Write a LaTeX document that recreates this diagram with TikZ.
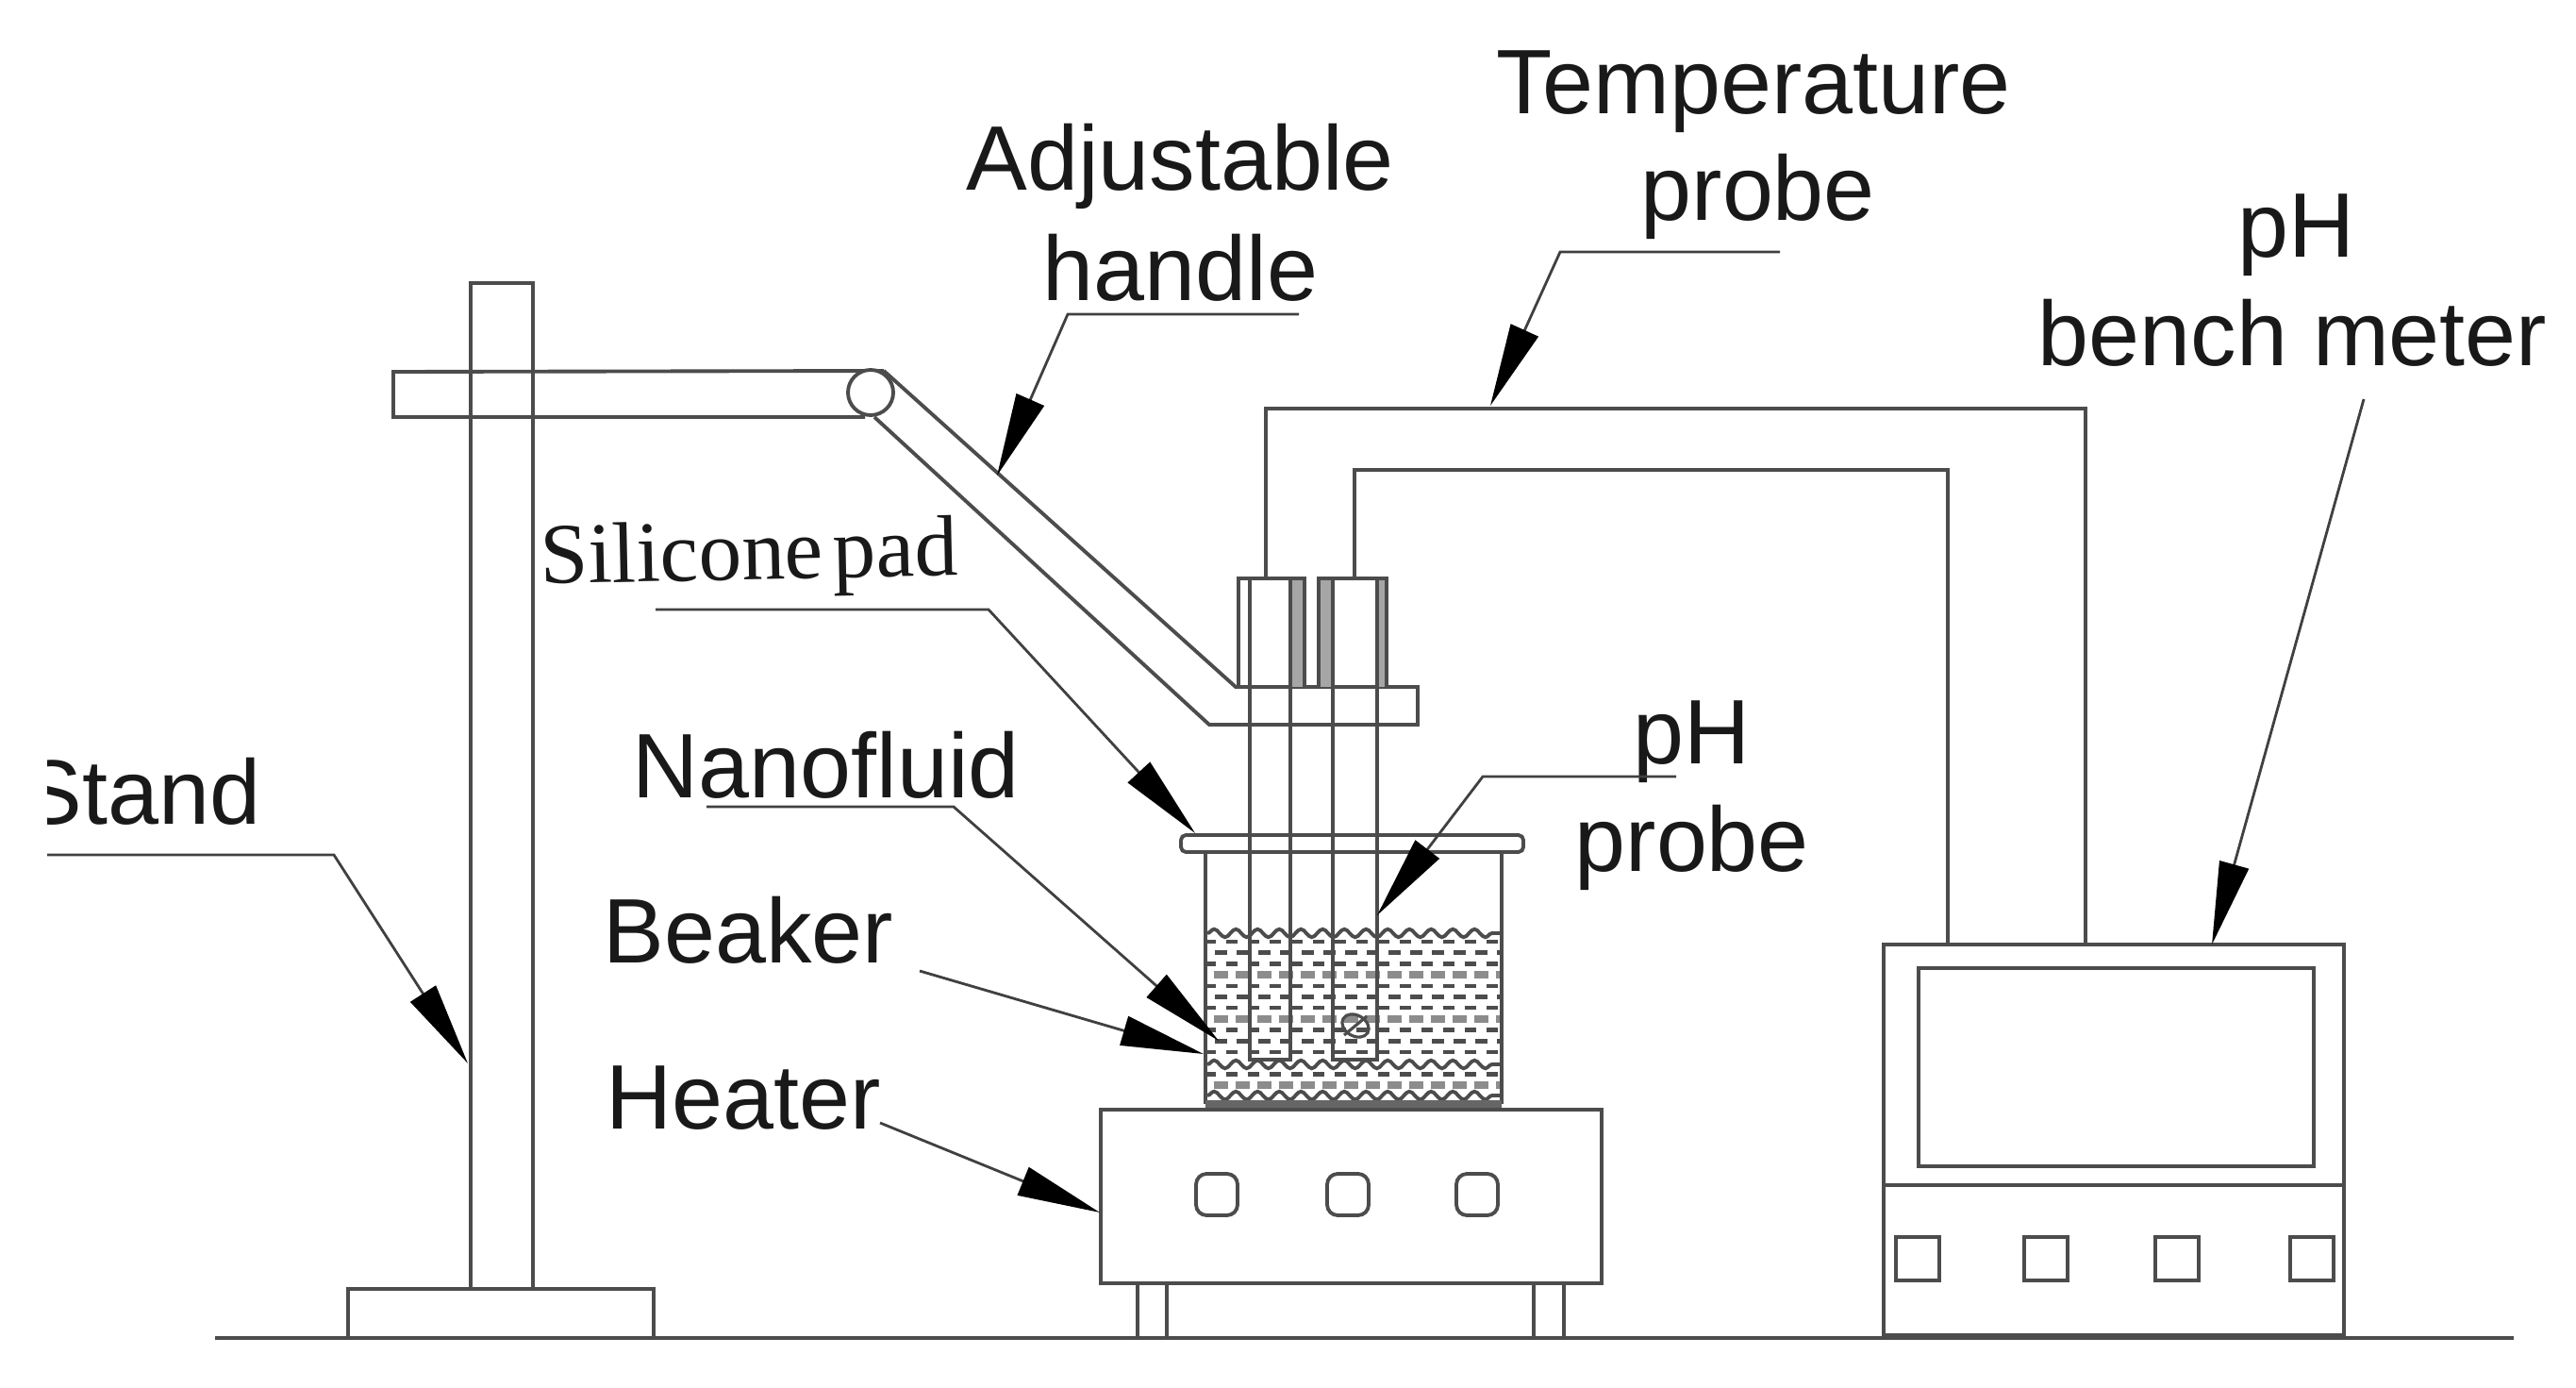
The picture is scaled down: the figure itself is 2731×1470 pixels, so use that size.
\documentclass[tikz,border=0pt]{standalone}
\usepackage{fontspec}
\setmainfont{Liberation Sans}
\newfontfamily\padfont{Liberation Serif}
\usetikzlibrary{arrows.meta,decorations.pathmorphing}

\tikzset{
	part/.style={draw=black!70, line width=1.1pt},
	leader/.style={draw=black!75, line width=0.8pt, -{Triangle[length=25pt,width=9pt,color=black]}},
	lbl/.style={inner sep=0pt, anchor=base west, text=black!90, font=\fontsize{27.6}{32}\selectfont},
	fluid/.style={draw=black!70, line width=1.3pt},
	wave/.style={draw=black!70, line width=1.1pt, decorate, decoration={snake, segment length=6.54pt, amplitude=1.2pt}}
}

\begin{document}
\begin{tikzpicture}[x=0.01cm, y=-0.01cm]
	\useasboundingbox (0,0) rectangle (2731,1470);

	\node[lbl] (stand) at (22,873) {Stand};
	\fill[white] (0,780) rectangle (50,900);
	\node[lbl] (adjustable) at (1024,202) {Adjustable};
	\node[lbl] (handle) at (1105,319) {handle};
	\node[lbl, font=\padfont\fontsize{26}{30}\selectfont, rotate=1.2] (pad) at (573,619) {Silicone\hspace{3pt}pad};
	\node[lbl] (nanofluid) at (670,845) {Nanofluid};
	\node[lbl] (beaker) at (639,1020) {Beaker};
	\node[lbl] (heater) at (642,1196) {Heater};
	\node[lbl] (temperature) at (1586,121) {Temperature};
	\node[lbl] (probeT) at (1739,234) {probe};
	\node[lbl] (phP) at (1731,809) {pH};
	\node[lbl] (probeP) at (1669,923) {probe};
	\node[lbl] (phM) at (2372,273) {pH};
	\node[lbl] (bench) at (2160,387) {bench meter};

	\coordinate (ground1) at (228,1418);
	\coordinate (ground2) at (2665,1418);
	\draw[part] (ground1) -- (ground2);

	\draw[part] (369,1418) -- (369,1366) -- (693,1366) -- (693,1418);
	\draw[part] (499,1366) -- (499,300) -- (565,300) -- (565,1366);
	\draw[part] (917,442) -- (417,442) -- (417,394) -- (937,393);
	\draw[part] (937,393) -- (1310,728) -- (1503,728) -- (1503,768) -- (1282,768) -- (927,442);
	\draw[part, fill=white] (923,416) circle (24);

	\fill[black!35] (1368,613) rectangle (1383,728);
	\fill[black!35] (1398,613) rectangle (1413,728);
	\fill[black!35] (1460,613) rectangle (1470,728);
	\draw[part] (1313,728) -- (1313,613) -- (1383,613) -- (1383,728);
	\draw[part] (1398,728) -- (1398,613) -- (1470,613) -- (1470,728);

	\foreach \r [evaluate=\r as \yy using 998+11.7*\r, evaluate=\r as \ph using {0.98+3.27*mod(\r,2)}] in {0,1,2,4,5,6,8,9,10,12}
		\draw[fluid, dash pattern=on 3.6pt off 2.94pt, dash phase=\ph pt] (1280,\yy) -- (1590,\yy);
	\foreach \r [evaluate=\r as \yy using 998+11.7*\r] in {3,7,13}
		\draw[draw=black!45, line width=2.2pt, dash pattern=on 4.2pt off 2.34pt, dash phase=4.6pt] (1280,\yy) -- (1590,\yy);
	\draw[wave] (1280,989) -- (1590,989);
	\draw[wave] (1280,1128) -- (1590,1128);
	\draw[wave] (1280,1161) -- (1590,1161);

	\draw[part, rounded corners=1.5pt] (1252,885) rectangle (1615,903);
	\draw[part] (1278,903) -- (1278,1168) -- (1592,1168) -- (1592,903);
	\fill[black!60] (1278,1166) rectangle (1592,1176);

	\draw[part] (1325,613) -- (1325,1123) -- (1368,1123) -- (1368,613);
	\draw[part] (1413,613) -- (1413,1123) -- (1460,1123) -- (1460,613);
	\draw[draw=black!70, line width=0.9pt, rotate around={-30:(1437,1087)}] (1437,1087) ellipse (15 and 11);
	\draw[draw=black!70, line width=0.9pt] (1425,1097) -- (1449,1077);

	\coordinate (sleeveA) at (1342,613);
	\coordinate (bendA1) at (1342,433);
	\coordinate (bendA2) at (2211,433);
	\coordinate (meterA) at (2211,1001);
	\coordinate (sleeveB) at (1436,613);
	\coordinate (bendB1) at (1436,498);
	\coordinate (bendB2) at (2065,498);
	\coordinate (meterB) at (2065,1001);
	\draw[part] (sleeveA) -- (bendA1) -- (bendA2) -- (meterA);
	\draw[part] (sleeveB) -- (bendB1) -- (bendB2) -- (meterB);

	\draw[part] (1167,1176) rectangle (1698,1360);
	\foreach \x in {1290,1429,1566}
		\draw[part, rounded corners=3.2pt] (\x-22,1244) rectangle (\x+22,1288);
	\foreach \x in {1206,1237,1626,1658}
		\draw[part] (\x,1360) -- (\x,1418);

	\draw[part] (1997,1001) rectangle (2485,1416);
	\draw[part, line width=1.6pt] (1997,1416) -- (2485,1416);
	\draw[part] (2034,1026) rectangle (2453,1236);
	\draw[part] (1997,1256) -- (2485,1256);
	\foreach \x in {2010,2146,2285,2428}
		\draw[part] (\x,1311) rectangle (\x+46,1357);

	\coordinate (standA) at (50,906);
	\coordinate (standB) at (354,906);
	\coordinate (standC) at (496,1127);
	\draw[leader] (standA) -- (standB) -- (standC);

	\coordinate (handleA) at (1377,333);
	\coordinate (handleB) at (1132,333);
	\coordinate (handleC) at (1057,504);
	\draw[leader] (handleA) -- (handleB) -- (handleC);

	\coordinate (padA) at (695,646);
	\coordinate (padB) at (1048,646);
	\coordinate (padC) at (1267,883);
	\draw[leader] (padA) -- (padB) -- (padC);

	\coordinate (fluidA) at (749,855);
	\coordinate (fluidB) at (1011,855);
	\coordinate (fluidC) at (1292,1103);
	\draw[leader] (fluidA) -- (fluidB) -- (fluidC);

	\coordinate (beakerA) at (975,1029);
	\coordinate (beakerB) at (1276,1117);
	\draw[leader] (beakerA) -- (beakerB);

	\coordinate (heaterA) at (933,1190);
	\coordinate (heaterB) at (1166,1285);
	\draw[leader] (heaterA) -- (heaterB);

	\coordinate (tempA) at (1887,267);
	\coordinate (tempB) at (1654,267);
	\coordinate (tempC) at (1580,430);
	\draw[leader] (tempA) -- (tempB) -- (tempC);

	\coordinate (phA) at (1777,823);
	\coordinate (phB) at (1572,823);
	\coordinate (phC) at (1460,970);
	\draw[leader] (phA) -- (phB) -- (phC);

	\coordinate (meterC) at (2506,423);
	\coordinate (meterD) at (2345,1001);
	\draw[leader] (meterC) -- (meterD);
\end{tikzpicture}
\end{document}
